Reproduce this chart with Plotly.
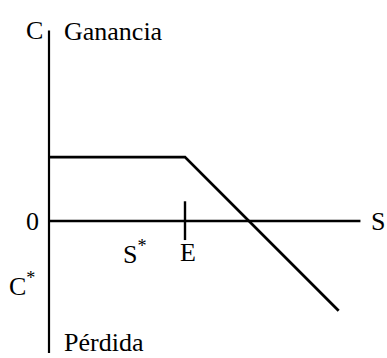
import plotly.graph_objects as go

# Payoff diagram of a written call: premium C kept until strike E, then loss grows with S
strike_E = 10.0
s_star = 6.3
premium_C = 4.7
premium_neg = -4.7

payoff_s = [0.0, 10.0, 21.3]
payoff_v = [4.7, 4.7, -6.6]

axis_s_max = 22.9
axis_c_top = 14.0
axis_c_bottom = -9.7

# pixels per unit used to keep both axes at the same scale
W, H = 387, 358
unit = 13.6
x0_px, y0_px = 49, 221
x_range = [-x0_px / unit, (W - x0_px) / unit]
y_range = [-(H - y0_px) / unit, y0_px / unit]

black = "#000000"
font = dict(family="Liberation Serif, Times New Roman, serif", size=26, color=black)

fig = go.Figure()

# horizontal S axis
fig.add_trace(go.Scatter(x=[0, axis_s_max], y=[0, 0], mode="lines",
                         line=dict(color=black, width=2.6), hoverinfo="skip"))
# vertical C axis
fig.add_trace(go.Scatter(x=[0, 0], y=[axis_c_bottom, axis_c_top], mode="lines",
                         line=dict(color=black, width=2.2), hoverinfo="skip"))
# strike tick
fig.add_trace(go.Scatter(x=[strike_E, strike_E], y=[1.45, -1.4], mode="lines",
                         line=dict(color=black, width=2.4), hoverinfo="skip"))
# payoff line
fig.add_trace(go.Scatter(x=payoff_s, y=payoff_v, mode="lines",
                         line=dict(color=black, width=2.8), hoverinfo="skip"))

labels = [
    dict(x=-1.03, y=14.0, text="C", xanchor="center"),
    dict(x=0.96, y=13.95, text="Ganancia", xanchor="left"),
    dict(x=-1.18, y=0.0, text="0", xanchor="center"),
    dict(x=-2.0, y=premium_neg, text="C<sup>*</sup>", xanchor="center"),
    dict(x=s_star, y=-2.3, text="S<sup>*</sup>", xanchor="center"),
    dict(x=strike_E + 0.2, y=-2.3, text="E", xanchor="center"),
    dict(x=24.2, y=0.0, text="S", xanchor="center"),
    dict(x=0.96, y=-8.95, text="Pérdida", xanchor="left"),
]
for lab in labels:
    fig.add_annotation(x=lab["x"], y=lab["y"], text=lab["text"], xanchor=lab["xanchor"],
                       yanchor="middle", showarrow=False, font=font)

fig.update_layout(
    width=W, height=H,
    margin=dict(l=0, r=0, t=0, b=0),
    paper_bgcolor="white", plot_bgcolor="white",
    showlegend=False,
    xaxis=dict(range=x_range, visible=False, fixedrange=True),
    yaxis=dict(range=y_range, visible=False, fixedrange=True),
)

fig.write_html("out.html", config={"displayModeBar": False})
